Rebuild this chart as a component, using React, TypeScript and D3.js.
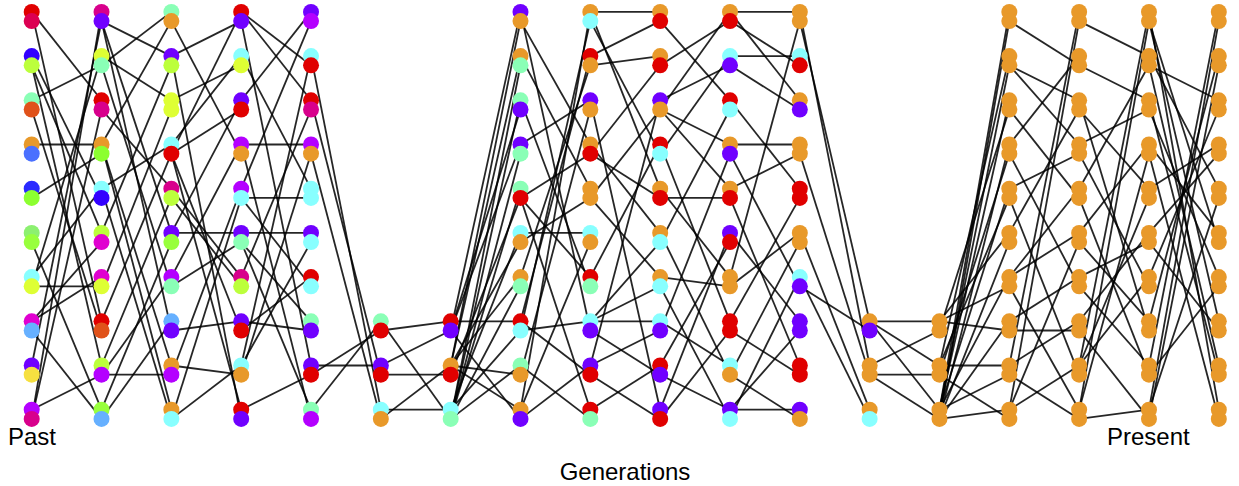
import React from "react";
import * as d3 from "d3";

// allele colour keys
const paletteKeys = ["R", "C", "B", "A", "M", "E", "O", "L", "b", "G", "g", "H", "c", "Y", "m", "S", "V", "y", "U", "K"];
const paletteValues = [
  "#e00000", "#dc0052", "#3200ff", "#bcff3c", "#8affb6", "#e0521a", "#e8992a", "#4a70ff", "#2a2aff", "#8cff30",
  "#8cf070", "#98ff3c", "#88ffff", "#deff34", "#e000d0", "#66b0ff", "#7000ff", "#f6e040", "#b400ff", "#d8008c",
];

// first row index used by each generation (small populations sit at the bottom)
const popStart = [0, 0, 0, 0, 0, 7, 7, 0, 0, 0, 0, 0, 7, 7, 0, 0, 0, 0];

// alleles of each individual: [top, bottom]
const colorsG01 = ["RC", "BA", "ME", "OL", "bG", "gH", "cY", "mS", "Vy", "UK"];
const colorsG02 = ["KV", "YM", "RK", "OG", "cB", "Am", "mY", "RE", "AU", "HS"];
const colorsG03 = ["MO", "VA", "YY", "cR", "KA", "VH", "UM", "SV", "OU", "Oc"];
const colorsG04 = ["RV", "cY", "VR", "UO", "Uc", "VM", "KA", "VR", "cO", "RV"];
const colorsG05 = ["VU", "cR", "RK", "UO", "cc", "Vc", "Rc", "MV", "VR", "MU"];
const colorsG06 = ["MR", "VR", "cO"];
const colorsG07 = ["RV", "OR", "cM"];
const colorsG08 = ["VO", "OM", "MV", "VM", "MR", "cO", "OM", "Rc", "MO", "OV"];
const colorsG09 = ["Oc", "RO", "VO", "OR", "OO", "cO", "RM", "cV", "VR", "RM"];
const colorsG10 = ["OR", "OR", "VO", "Rc", "OR", "Oc", "Oc", "cV", "RV", "VR"];
const colorsG11 = ["OR", "cV", "Rc", "OV", "OR", "VR", "OO", "RR", "cO", "Vc"];
const colorsG12 = ["OO", "cR", "OV", "OO", "RR", "OO", "cV", "VV", "RR", "VO"];
const colorsG13 = ["OV", "OO", "Oc"];
const colorsG14 = ["OO", "OO", "OO"];
const colorsG15 = ["OO", "OO", "OO", "OO", "OO", "OO", "OO", "OO", "OO", "OO"];
const colorsG16 = ["OO", "OO", "OO", "OO", "OO", "OO", "OO", "OO", "OO", "OO"];
const colorsG17 = ["OO", "OO", "OO", "OO", "OO", "OO", "OO", "OO", "OO", "OO"];
const colorsG18 = ["OO", "OO", "OO", "OO", "OO", "OO", "OO", "OO", "OO", "OO"];

// parent of each allele: "<row><t|b><row><t|b>" for top and bottom allele
const parentsG02 = ["9b8t", "6b2t", "0t9b", "3t4b", "6t1t", "1b7t", "7t6b", "0t2b", "1b9t", "5b7b"];
const parentsG03 = ["1b3t", "0b5t", "1t6b", "4t7t", "2b8t", "0b9t", "8b1b", "9b0b", "3t8b", "3t4t"];
const parentsG04 = ["3b1t", "3t2t", "5t3b", "6t0b", "8b9b", "5t6b", "4t4b", "7b3b", "9b8t", "3b1t"];
const parentsG05 = ["2t4t", "8t0t", "0t6t", "3t8b", "1t4b", "5t8t", "7b4b", "5b7t", "0b9t", "5b3t"];
const parentsG06 = ["9t8b", "8t2t", "1t3b"];
const parentsG07 = ["7b8t", "9b8b", "9t7t"];
const parentsG08 = ["7b8t", "8t9b", "9b7b", "7b9b", "9b8b", "9t8t", "8t9b", "7t9t", "9b8t", "8t7b"];
const parentsG09 = ["9t7b", "7t6t", "3t8b", "0b4b", "1t5b", "5t9t", "4b2t", "7b0t", "9b7t", "4b8t"];
const parentsG10 = ["0t1t", "1b3b", "8t4b", "6t0b", "0t3b", "3t7t", "4b7t", "7t8t", "9t7b", "2t8b"];
const parentsG11 = ["2b1b", "3b2t", "0b5b", "2b7b", "2b4b", "9t8t", "4t6t", "3t9b", "7t5t", "8b6b"];
const parentsG12 = ["0t6t", "1t0b", "0t1b", "3t4t", "2t7t", "6b8b", "9b3b", "5t9t", "4b7b", "9t8b"];
const parentsG13 = ["0b6b", "0t3b", "5t6t"];
const parentsG14 = ["7t8t", "7t8b", "7t8b"];
const parentsG15 = ["9t9b", "8t9t", "9t7b", "9b8b", "9t8t", "7t9b", "9t7t", "9b7t", "8t9t", "9b8b"];
const parentsG16 = ["8t9t", "3t0b", "1b5t", "1b4t", "6t2b", "6t9t", "7t3b", "8t7b", "9t4b", "6b8b"];
const parentsG17 = ["8t9t", "0b4t", "1b3t", "5t9t", "2b8t", "7t6t", "8t3b", "5b2t", "6b4b", "9b7b"];
const parentsG18 = ["8t9t", "7t9b", "1b6t", "4t5t", "1t9t", "3t0b", "2b8b", "0b5b", "1b2t", "0t3b"];

const axisLabels = ["Past", "Present", "Generations"];

const generationColors = [
  colorsG01, colorsG02, colorsG03, colorsG04, colorsG05, colorsG06, colorsG07, colorsG08, colorsG09,
  colorsG10, colorsG11, colorsG12, colorsG13, colorsG14, colorsG15, colorsG16, colorsG17, colorsG18,
];
const generationParents = [
  null, parentsG02, parentsG03, parentsG04, parentsG05, parentsG06, parentsG07, parentsG08, parentsG09,
  parentsG10, parentsG11, parentsG12, parentsG13, parentsG14, parentsG15, parentsG16, parentsG17, parentsG18,
];

const W = 1239;
const H = 486;

export default function App() {
  const colorOf = d3.scaleOrdinal<string, string>().domain(paletteKeys).range(paletteValues);
  const x = d3.scaleLinear().domain([0, 17]).range([31.7, 1218.8]);
  const y = d3.scaleLinear().domain([0, 9]).range([16.5, 414.3]);
  const off = d3.scalePoint<string>().domain(["t", "b"]).range([-4.6, 4.6]);
  const alleleY = (row: number, dot: string) => y(row) + (off(dot) as number);

  const lines: { x1: number; y1: number; x2: number; y2: number; k: string }[] = [];
  generationParents.forEach((parents, g) => {
    if (!parents) return;
    parents.forEach((p, i) => {
      const row = popStart[g] + i;
      const refs = [p.slice(0, 2), p.slice(2, 4)];
      refs.forEach((r, a) => {
        const pr = +r[0];
        const pd = r[1];
        lines.push({
          x1: x(g - 1),
          y1: alleleY(pr, pd),
          x2: x(g),
          y2: alleleY(row, a === 0 ? "t" : "b"),
          k: `${g}-${i}-${a}`,
        });
      });
    });
  });

  const dots: { cx: number; cy: number; fill: string; k: string }[] = [];
  generationColors.forEach((cols, g) => {
    cols.forEach((pair, i) => {
      const row = popStart[g] + i;
      ["t", "b"].forEach((d, a) => {
        dots.push({ cx: x(g), cy: alleleY(row, d), fill: colorOf(pair[a]), k: `${g}-${i}-${d}` });
      });
    });
  });

  const font = "'Liberation Sans', Arial, Helvetica, sans-serif";

  return (
    <svg
      width={W}
      height={H}
      style={{ position: "absolute", left: 0, top: 0, background: "#fff" }}
    >
      <g>
        {lines.map((l) => (
          <line
            key={l.k}
            x1={l.x1}
            y1={l.y1}
            x2={l.x2}
            y2={l.y2}
            stroke="#000"
            strokeWidth={1.8}
            strokeOpacity={0.85}
          />
        ))}
      </g>
      <g>
        {dots.map((d) => (
          <circle key={d.k} cx={d.cx} cy={d.cy} r={8} fill={d.fill} />
        ))}
      </g>
      <text x={8} y={445} fontFamily={font} fontSize={24} fill="#000">
        {axisLabels[0]}
      </text>
      <text x={1107} y={445} fontFamily={font} fontSize={24} fill="#000">
        {axisLabels[1]}
      </text>
      <text x={625} y={480} fontFamily={font} fontSize={24} fill="#000" textAnchor="middle">
        {axisLabels[2]}
      </text>
    </svg>
  );
}
